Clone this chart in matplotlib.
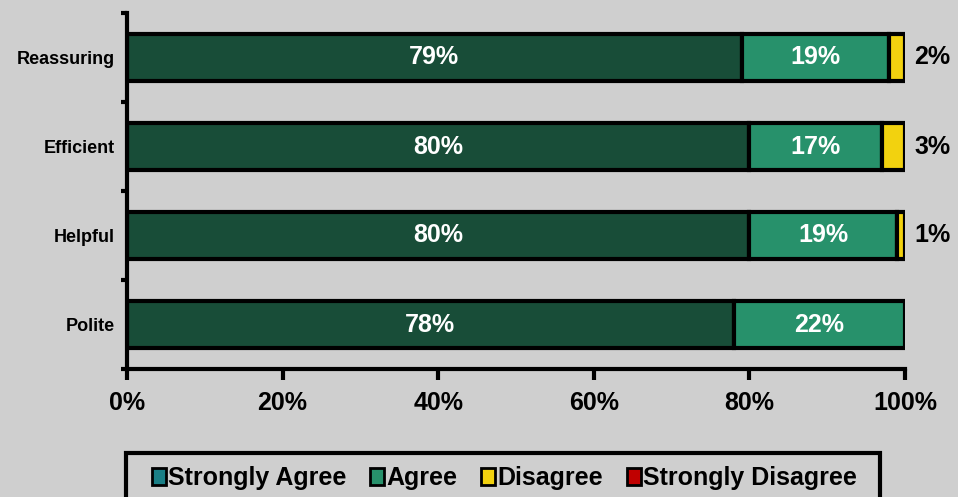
import matplotlib
matplotlib.use("Agg")
import matplotlib.pyplot as plt
from matplotlib.patches import Patch, Rectangle
import numpy as np

categories = ["Reassuring", "Efficient", "Helpful", "Polite"]
strongly_agree = [79, 80, 80, 78]
agree = [19, 17, 19, 22]
disagree = [2, 3, 1, 0]
strongly_disagree = [0, 0, 0, 0]
series_names = ["Strongly Agree", "Agree", "Disagree", "Strongly Disagree"]
xtick_labels = ["0%", "20%", "40%", "60%", "80%", "100%"]

bar_colors = ["#184d38", "#27916b", "#f2d20f", "#c00000"]
legend_colors = ["#1a7f86", "#27916b", "#f2d20f", "#c00000"]

plt.rcParams['font.family'] = ['Liberation Sans', 'DejaVu Sans']
plt.rcParams['font.weight'] = 'bold'

fig = plt.figure(figsize=(9.58, 4.97), dpi=100)
fig.patch.set_facecolor("#cfcfcf")
ax = fig.add_axes([127/958, 1-369/497, (905-127)/958, (369-13)/497])
ax.set_facecolor("none")

y = np.arange(len(categories))[::-1]
series = [strongly_agree, agree, disagree, strongly_disagree]
left = np.zeros(len(categories))
h = 0.52
for vals, c in zip(series, bar_colors):
    vals = np.array(vals, dtype=float)
    mask = vals > 0
    ax.barh(y[mask], vals[mask], left=left[mask], height=h, color=c,
            edgecolor="black", linewidth=3)
    left += vals

for i in range(len(categories)):
    sa, a, d = strongly_agree[i], agree[i], disagree[i]
    ax.text(sa/2, y[i], f"{sa}%", ha="center", va="center", color="white",
            fontsize=18, fontweight="bold")
    ax.text(sa + a/2, y[i], f"{a}%", ha="center", va="center", color="white",
            fontsize=18, fontweight="bold")
    if d > 0:
        ax.text(101.2, y[i], f"{d}%", ha="left", va="center", color="black",
                fontsize=18, fontweight="bold", clip_on=False)

ax.set_xlim(0, 100)
ax.set_ylim(-0.5, len(categories)-0.5)
ax.set_xticks(np.linspace(0, 100, 6))
ax.set_xticklabels(xtick_labels, fontsize=18, fontweight="bold")
ax.set_yticks(y)
ax.set_yticklabels(categories, fontsize=13, fontweight="bold")
ax.set_yticks(np.arange(-0.5, len(categories), 1.0), minor=True)
ax.tick_params(axis="y", which="major", length=0, pad=9)
ax.tick_params(axis="y", which="minor", length=4, width=3, direction="out")
ax.tick_params(axis="x", which="major", length=8, width=3, direction="out", pad=8)
for s in ["top", "right"]:
    ax.spines[s].set_visible(False)
for s in ["left", "bottom"]:
    ax.spines[s].set_linewidth(3)

# legend frame (box runs off the bottom edge, as in the reference)
fig.add_artist(Rectangle((126/958, -0.05), (880-126)/958, 0.05 + (497-453)/497,
                         transform=fig.transFigure, fill=False,
                         edgecolor="black", linewidth=3))
handles = [Patch(facecolor=c, edgecolor="black", linewidth=2) for c in legend_colors]
leg = fig.legend(handles, series_names, loc="upper left",
                 bbox_to_anchor=(152/958, 1-466/497), ncol=4, frameon=False,
                 fontsize=18, handlelength=0.55, handleheight=0.7,
                 handletextpad=0.1, columnspacing=0.95, borderpad=0,
                 borderaxespad=0)

fig.savefig("out.png", dpi=100, facecolor=fig.get_facecolor())
